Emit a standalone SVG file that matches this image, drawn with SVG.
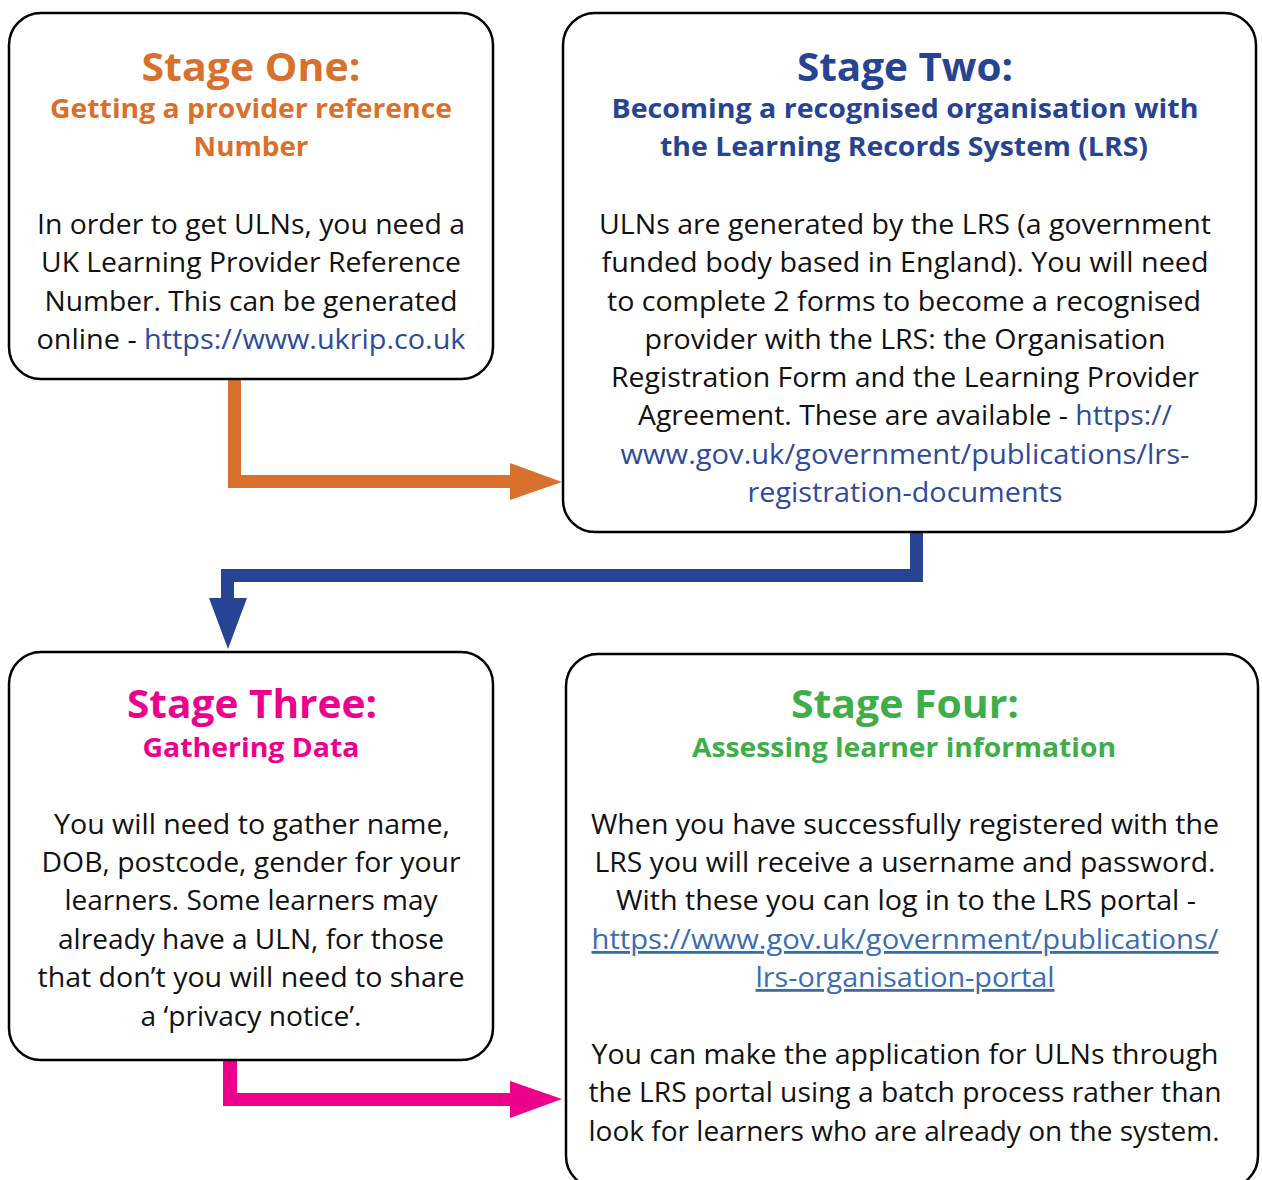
<svg xmlns="http://www.w3.org/2000/svg" width="1262" height="1180" viewBox="0 0 1262 1180">
  <style>
    .box { fill: #ffffff; stroke: #000000; stroke-width: 2.5; }
    .title { font-family: "Open Sans", "Liberation Sans", sans-serif; font-weight: 700; font-size: 40px; text-anchor: middle; }
    .sub { font-family: "Open Sans", "Liberation Sans", sans-serif; font-weight: 700; font-size: 27px; text-anchor: middle; }
    .body { font-family: "Open Sans", "Liberation Sans", sans-serif; font-size: 28px; fill: #111111; text-anchor: middle; }
    .link { fill: #2e4b9b; }
    .ulink { fill: #3a6db0; text-decoration: underline; }
    .orange { fill: #d9702b; }
    .blue { fill: #264491; }
    .pink { fill: #ec008c; }
    .green { fill: #3fae49; }
  </style>

  <!-- Flow connectors between the four stages -->
  <g id="connectors">
    <polygon id="c1-2" class="orange" points="228,379 241,379 241,475 510,475 510,463 562,482 510,500 510,488 228,488"/>
    <polygon id="c2-3" class="blue" points="910,532 923,532 923,582 234,582 234,598 247,598 228,649 209,598 221,598 221,569 910,569"/>
    <polygon id="c3-4" class="pink" points="223,1060 237,1060 237,1093 510,1093 510,1081 562,1099 510,1118 510,1106 223,1106"/>
  </g>

  <g id="stage-one">
    <rect class="box" x="9" y="13" width="484" height="366" rx="32"/>
    <text class="title orange" x="251" y="81" textLength="219" lengthAdjust="spacingAndGlyphs">Stage One:</text>
    <text class="sub orange" x="251" y="118" textLength="402" lengthAdjust="spacingAndGlyphs">Getting a provider reference</text>
    <text class="sub orange" x="251" y="156" textLength="115" lengthAdjust="spacingAndGlyphs">Number</text>
    <text class="body" x="251" y="234" textLength="428" lengthAdjust="spacingAndGlyphs">In order to get ULNs, you need a</text>
    <text class="body" x="251" y="272" textLength="420" lengthAdjust="spacingAndGlyphs">UK Learning Provider Reference</text>
    <text class="body" x="251" y="311" textLength="413" lengthAdjust="spacingAndGlyphs">Number. This can be generated</text>
    <text class="body" x="251" y="349" textLength="429" lengthAdjust="spacingAndGlyphs">online - <tspan class="link">https://www.ukrip.co.uk</tspan></text>
  </g>

  <g id="stage-two">
    <rect class="box" x="563" y="13" width="693" height="519" rx="32"/>
    <text class="title blue" x="905" y="81" textLength="216" lengthAdjust="spacingAndGlyphs">Stage Two:</text>
    <text class="sub blue" x="905" y="118" textLength="587" lengthAdjust="spacingAndGlyphs">Becoming a recognised organisation with</text>
    <text class="sub blue" x="904" y="156" textLength="488" lengthAdjust="spacingAndGlyphs">the Learning Records System (LRS)</text>
    <text class="body" x="905" y="234" textLength="612" lengthAdjust="spacingAndGlyphs">ULNs are generated by the LRS (a government</text>
    <text class="body" x="905" y="272" textLength="607" lengthAdjust="spacingAndGlyphs">funded body based in England). You will need</text>
    <text class="body" x="904" y="311" textLength="594" lengthAdjust="spacingAndGlyphs">to complete 2 forms to become a recognised</text>
    <text class="body" x="905" y="349" textLength="521" lengthAdjust="spacingAndGlyphs">provider with the LRS: the Organisation</text>
    <text class="body" x="905" y="387" textLength="588" lengthAdjust="spacingAndGlyphs">Registration Form and the Learning Provider</text>
    <text class="body" x="905" y="425" textLength="534" lengthAdjust="spacingAndGlyphs">Agreement. These are available - <tspan class="link">https://</tspan></text>
    <text class="body link" x="905" y="464" textLength="569" lengthAdjust="spacingAndGlyphs">www.gov.uk/government/publications/lrs-</text>
    <text class="body link" x="905" y="502" textLength="315" lengthAdjust="spacingAndGlyphs">registration-documents</text>
  </g>

  <g id="stage-three">
    <rect class="box" x="9" y="652" width="484" height="408" rx="32"/>
    <text class="title pink" x="252" y="718" textLength="250" lengthAdjust="spacingAndGlyphs">Stage Three:</text>
    <text class="sub pink" x="251" y="757" textLength="217" lengthAdjust="spacingAndGlyphs">Gathering Data</text>
    <text class="body" x="252" y="834" textLength="396" lengthAdjust="spacingAndGlyphs">You will need to gather name,</text>
    <text class="body" x="251" y="872" textLength="419" lengthAdjust="spacingAndGlyphs">DOB, postcode, gender for your</text>
    <text class="body" x="251" y="910" textLength="373" lengthAdjust="spacingAndGlyphs">learners. Some learners may</text>
    <text class="body" x="251" y="949" textLength="386" lengthAdjust="spacingAndGlyphs">already have a ULN, for those</text>
    <text class="body" x="251" y="987" textLength="427" lengthAdjust="spacingAndGlyphs">that don’t you will need to share</text>
    <text class="body" x="251" y="1026" textLength="221" lengthAdjust="spacingAndGlyphs">a ‘privacy notice’.</text>
  </g>

  <g id="stage-four">
    <rect class="box" x="566" y="654" width="692" height="534" rx="32"/>
    <text class="title green" x="905" y="718" textLength="228" lengthAdjust="spacingAndGlyphs">Stage Four:</text>
    <text class="sub green" x="904" y="757" textLength="424" lengthAdjust="spacingAndGlyphs">Assessing learner information</text>
    <text class="body" x="905" y="834" textLength="628" lengthAdjust="spacingAndGlyphs">When you have successfully registered with the</text>
    <text class="body" x="905" y="872" textLength="621" lengthAdjust="spacingAndGlyphs">LRS you will receive a username and password.</text>
    <text class="body" x="906" y="910" textLength="580" lengthAdjust="spacingAndGlyphs">With these you can log in to the LRS portal -</text>
    <text class="body ulink" x="905" y="949" textLength="627" lengthAdjust="spacingAndGlyphs">https://www.gov.uk/government/publications/</text>
    <text class="body ulink" x="905" y="987" textLength="299" lengthAdjust="spacingAndGlyphs">lrs-organisation-portal</text>
    <text class="body" x="905" y="1064" textLength="627" lengthAdjust="spacingAndGlyphs">You can make the application for ULNs through</text>
    <text class="body" x="905" y="1102" textLength="633" lengthAdjust="spacingAndGlyphs">the LRS portal using a batch process rather than</text>
    <text class="body" x="904" y="1141" textLength="631" lengthAdjust="spacingAndGlyphs">look for learners who are already on the system.</text>
  </g>
</svg>
